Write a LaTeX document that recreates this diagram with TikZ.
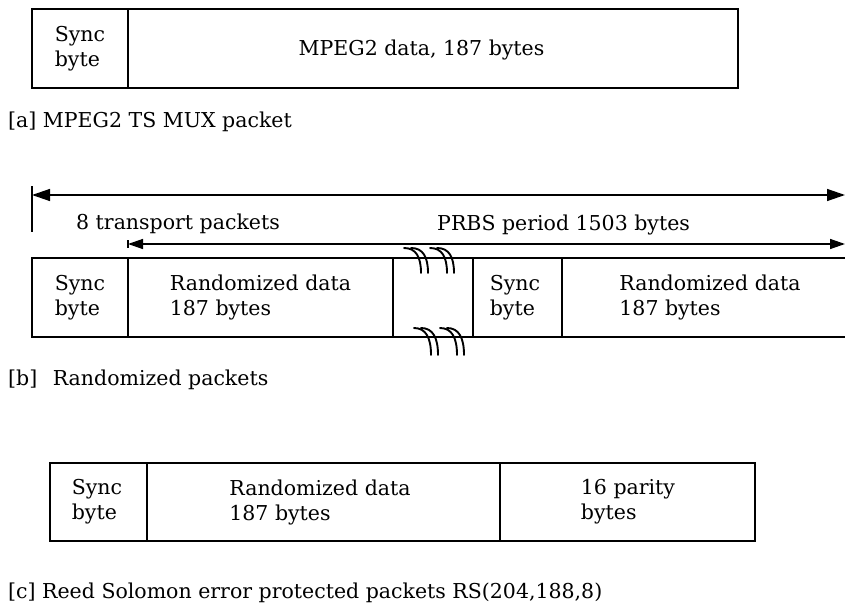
\documentclass[tikz,border=0pt]{standalone}
\usepackage{fontspec}
\setmainfont{DejaVu Serif}
\usetikzlibrary{arrows.meta}
\begin{document}
\begin{tikzpicture}[x=1pt,y=-1pt,
  frame/.style={line width=1.7pt, line join=miter},
  lbl/.style={inner sep=0pt, font=\fontsize{20.5}{25}\selectfont},
  cell/.style={lbl, align=left},
  dim/.style={line width=1.4pt},
  bigtips/.style={{Triangle[length=18pt,width=12pt]}-{Triangle[length=18pt,width=12pt]}},
  smalltips/.style={{Triangle[length=15pt,width=10pt]}-{Triangle[length=15pt,width=10pt]}},
  brk/.style={line width=1.9pt, line cap=round}
]
\useasboundingbox (0,0) rectangle (845,604);

% [a] transport stream packet
\draw[frame] (32,9) rectangle (738,88);
\draw[frame] (128,9) -- (128,88);
\node[cell] (async) at (80,48.5) {Sync\\byte};
\node[lbl] (adata) at (421.5,50) {MPEG2 data, 187 bytes};
\node[lbl, anchor=base west] (alab) at (8,128) {[a] MPEG2 TS MUX packet};

% dimension arrows
\coordinate (bar1t) at (32,186);
\coordinate (bar1b) at (32,232);
\coordinate (dimL) at (32,195);
\coordinate (dimR) at (845,195);
\draw[dim] (bar1t) -- (bar1b);
\draw[dim, bigtips] (dimL) -- (dimR);
\node[lbl, anchor=base west] (tpk) at (76,229) {8 transport packets};

\coordinate (bar2t) at (128,240);
\coordinate (bar2b) at (128,248);
\coordinate (prbsL) at (128,244);
\coordinate (prbsR) at (845,244);
\draw[dim] (bar2t) -- (bar2b);
\draw[dim, smalltips] (prbsL) -- (prbsR);
\node[lbl, anchor=base west] (prbs) at (437,230) {PRBS period 1503 bytes};

% [b] randomized packets (open on the right)
\draw[frame] (845,258) -- (32,258) -- (32,337) -- (845,337);
\foreach \xx in {128,393,473,562} \draw[frame] (\xx,258) -- (\xx,337);
\node[cell] (bsync1) at (80,297.5) {Sync\\byte};
\node[cell] (bdata1) at (260.5,297.5) {Randomized data\\187 bytes};
\node[cell] (bsync2) at (515,297.5) {Sync\\byte};
\node[cell] (bdata2) at (710,297.5) {Randomized data\\187 bytes};
\node[lbl, anchor=base west] (blab) at (8,385) {[b]\hspace{9pt} Randomized packets};

% break marks
\foreach \s in {404,411,430,437}
  \draw[brk] (\s,248) .. controls (\s+12,248) and (\s+17,257) .. (\s+17,273);
\foreach \s in {414,421,440,447}
  \draw[brk] (\s,328) .. controls (\s+12,328) and (\s+17,338) .. (\s+17,355);

% [c] Reed-Solomon protected packet
\draw[frame] (50,463) rectangle (755,541);
\foreach \xx in {147,500} \draw[frame] (\xx,463) -- (\xx,541);
\node[cell] (csync) at (97,502) {Sync\\byte};
\node[cell] (cdata) at (320,502) {Randomized data\\187 bytes};
\node[cell] (cpar) at (628,502) {16 parity\\bytes};
\node[lbl, anchor=base west] (clab) at (8,598) {[c] Reed Solomon error protected packets RS(204,188,8)};
\end{tikzpicture}
\end{document}
